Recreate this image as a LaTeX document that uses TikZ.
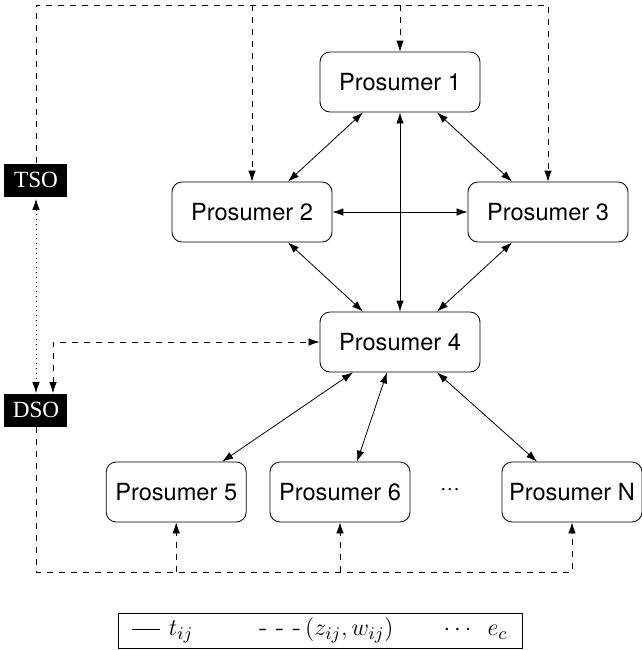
\documentclass[tikz,border=0pt]{standalone}
\usepackage{amsmath}
\usepackage{fontspec}
\newfontfamily\helv{TeX Gyre Heros}
\newfontfamily\tsofont{Liberation Serif}
\usetikzlibrary{positioning,arrows.meta,calc}

\tikzset{
  prosumer/.style={draw,rounded corners=5pt,minimum width=80pt,minimum height=30pt,inner sep=0pt,font=\helv\fontsize{11.8}{14}\selectfont},
  prosumersmall/.style={prosumer,minimum width=70pt},
  operator/.style={fill=black,text=white,minimum width=31.5pt,minimum height=16.5pt,inner sep=0pt,font=\tsofont\fontsize{11.6}{13}\selectfont},
}

\begin{document}
\begin{tikzpicture}[x=0.5pt,y=-0.5pt,>={Latex[length=5.5pt,width=3.8pt]}]
		\useasboundingbox (0,0) rectangle (642,650);
		% prosumers
		\node(P1) [prosumer] at (400,82) {Prosumer 1};
		\node(P4) [prosumer] at (400,342) {Prosumer 4};
		\node(P2) [prosumer] at (252,212) {Prosumer 2};
		\node(P3) [prosumer] at (548,212) {Prosumer 3};
		\node(P6) [prosumersmall] at (340,492) {Prosumer 6};
		\node(P5) [prosumersmall,left=11.5pt of P6] {Prosumer 5};
		\node(PN) [prosumersmall] at (572,492) {Prosumer N};
		\node(dots) at (450,492) {\helv\fontsize{11.8}{14}\selectfont ···};
		% operators
		\node(TSO) [operator] at (36,180) {TSO};
		\node(DSO) [operator] at (36,410) {DSO};
		\coordinate (top) at (36,5);
		\coordinate (bot) at (36,572);
		% trades
		\draw[<->] ([xshift=-18.5pt]P1.south) -- ([xshift=18pt]P2.north);
		\draw[<->] ([xshift=18.5pt]P1.south) -- ([xshift=-18pt]P3.north);
		\draw[<->] (P1) -- (P4);
		\draw[<->] (P2) -- (P3);
		\draw[<->] ([xshift=18pt]P2.south) -- ([xshift=-18.5pt]P4.north);
		\draw[<->] ([xshift=-18pt]P3.south) -- ([xshift=18.5pt]P4.north);
		\draw[<->] ([xshift=-23.5pt]P4.south) -- ([xshift=23pt]P5.north);
		\draw[<->] ([xshift=-6.5pt]P4.south) -- ([xshift=8.5pt]P6.north);
		\draw[<->] ([xshift=18.5pt]P4.south) -- ([xshift=-17.5pt]PN.north);
		% signals
		\draw[dashed,->] (TSO.north) -- (TSO.north |- top) -| (P3.north);
		\draw[dashed,->] (P2.north |- top) -- (P2.north);
		\draw[dashed,->] (P1.north |- top) -- (P1.north);
		\draw[dashed,->] (DSO.south) -- (DSO.south |- bot) -| (PN.south);
		\draw[dashed,->] (P5.south |- bot) -- (P5.south);
		\draw[dashed,->] (P6.south |- bot) -- (P6.south);
		\draw[dashed,<->] ([xshift=8.5pt]DSO.north) |- (P4.west);
		\draw[dotted,<->,shorten <=1pt] (TSO.south) -- (DSO.north);
		% legend
		\node(legend) [draw,minimum width=202pt,minimum height=17.5pt,inner sep=1pt,font=\fontsize{12.8}{15}\selectfont] at (320,630.5)
			{\rule[0.55ex]{14pt}{0.5pt}\ $t_{ij}$\hspace{33pt}- - -\,$(z_{ij},w_{ij})$\hspace{25pt}$\cdots$\hspace{6pt}$e_c$};
	\end{tikzpicture}
\end{document}
